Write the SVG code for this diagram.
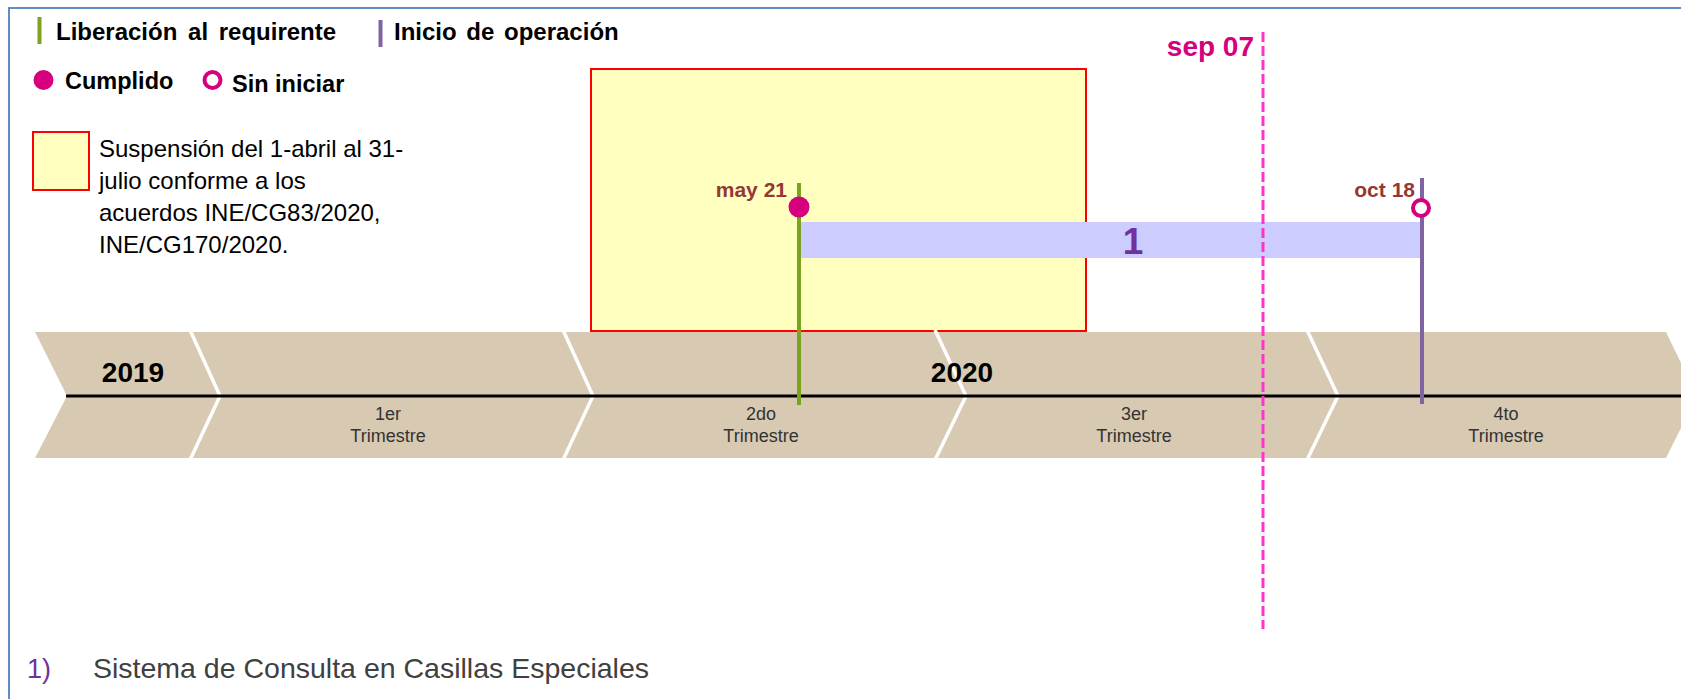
<svg xmlns="http://www.w3.org/2000/svg" width="1681" height="699" viewBox="0 0 1681 699">
<style>
.b{font-family:"Liberation Sans",Arial,sans-serif;font-weight:bold}
.r{font-family:"Liberation Sans",Arial,sans-serif}
.leg{font-size:24px;fill:#000}
.leg2{font-size:23.5px;fill:#000}
.date{font-size:21px;fill:#953735}
.q{font-size:18px;fill:#333;text-anchor:middle}
.yr{font-size:28px;fill:#000;text-anchor:middle}
.sep{stroke:#fff;stroke-width:3.5;fill:none}
</style>
<rect x="9" y="8" width="1700" height="720" fill="#fff" stroke="#4F81BD" stroke-width="1.8"/>
<g id="legend">
  <rect x="37.5" y="17" width="4" height="27" fill="#7BA31F"/>
  <text class="b leg" x="56" y="40" word-spacing="4">Liberación al requirente</text>
  <rect x="378.5" y="20" width="4" height="27" fill="#8064A2"/>
  <text class="b leg" x="394" y="40" word-spacing="3">Inicio de operación</text>
  <circle cx="43.5" cy="80" r="10" fill="#D6007E"/>
  <text class="b leg2" x="65" y="89">Cumplido</text>
  <circle cx="212.5" cy="80" r="8" fill="#fff" stroke="#D6007E" stroke-width="4"/>
  <text class="b leg2" x="232" y="92">Sin iniciar</text>
  <rect x="33" y="132" width="56" height="58" fill="#FFFFC0" stroke="#FF0000" stroke-width="2"/>
  <text class="r" font-size="24" fill="#000" x="99" y="157">Suspensión del 1-abril al 31-</text>
  <text class="r" font-size="24" fill="#000" x="99" y="189">julio conforme a los</text>
  <text class="r" font-size="24" fill="#000" x="99" y="221">acuerdos INE/CG83/2020,</text>
  <text class="r" font-size="24" fill="#000" x="99" y="253">INE/CG170/2020.</text>
</g>
<g id="suspension">
  <rect x="591" y="69" width="495" height="262" fill="#FFFFC0" stroke="#FF0000" stroke-width="2"/>
</g>
<g id="timeline">
  <polygon points="35,332 1666,332 1697,396 1666,458 35,458 67,396" fill="#D8CAB2"/>
  <polyline class="sep" points="190,330 220,396 190,460"/>
  <polyline class="sep" points="563,330 593,396 563,460"/>
  <polyline class="sep" points="935,330 966,396 935,460"/>
  <polyline class="sep" points="1307,330 1338,396 1307,460"/>
  <line x1="66" y1="396" x2="1681" y2="396" stroke="#000" stroke-width="3"/>
  <text class="b yr" x="133" y="382">2019</text>
  <text class="b yr" x="962" y="382">2020</text>
  <text class="r q" x="388" y="420">1er</text>
  <text class="r q" x="388" y="442">Trimestre</text>
  <text class="r q" x="761" y="420">2do</text>
  <text class="r q" x="761" y="442">Trimestre</text>
  <text class="r q" x="1134" y="420">3er</text>
  <text class="r q" x="1134" y="442">Trimestre</text>
  <text class="r q" x="1506" y="420">4to</text>
  <text class="r q" x="1506" y="442">Trimestre</text>
</g>
<g id="task1">
  <rect x="801" y="222" width="619" height="36" fill="#CCCCFF"/>
  <text class="b" font-size="37" fill="#7030A0" x="1133" y="254" text-anchor="middle">1</text>
</g>
<g id="connectors">
  <line x1="799" y1="183" x2="799" y2="405" stroke="#7BA31F" stroke-width="4"/>
  <line x1="1422" y1="178" x2="1422" y2="404" stroke="#8064A2" stroke-width="4"/>
  <line x1="1263" y1="32" x2="1263" y2="629" stroke="#FF33CC" stroke-width="3" stroke-dasharray="10,4"/>
</g>
<g id="may21">
  <circle cx="799" cy="207" r="10.5" fill="#D6007E"/>
  <text class="b date" x="787" y="197" text-anchor="end">may 21</text>
</g>
<g id="oct18">
  <circle cx="1421" cy="208" r="8" fill="#fff" stroke="#D6007E" stroke-width="4"/>
  <text class="b date" x="1415" y="197" text-anchor="end">oct 18</text>
</g>
<g id="sep07">
  <text class="b" font-size="28" fill="#D6007E" x="1254" y="56" text-anchor="end">sep 07</text>
</g>
<g id="footer">
  <text class="r" font-size="27" fill="#7030A0" x="27" y="678">1)</text>
  <text class="r" font-size="28.5" fill="#404040" x="93" y="678">Sistema de Consulta en Casillas Especiales</text>
</g>
</svg>
